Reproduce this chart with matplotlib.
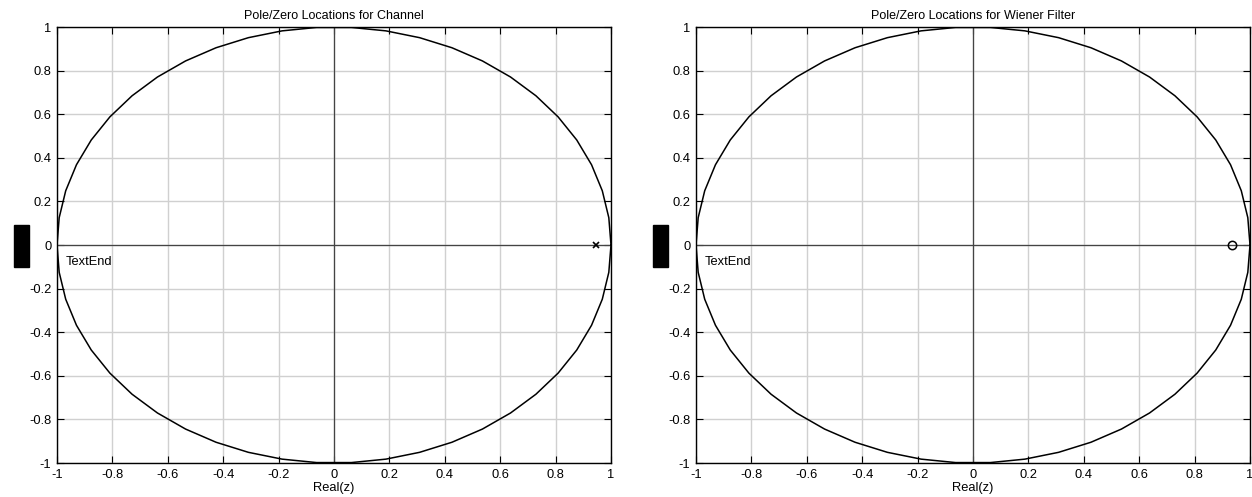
import numpy as np
import matplotlib
matplotlib.use("Agg")
import matplotlib.pyplot as plt
from matplotlib.patches import Rectangle

titles = ["Pole/Zero Locations for Channel", "Pole/Zero Locations for Wiener Filter"]
xlabel = "Real(z)"
ticks = [-1, -0.8, -0.6, -0.4, -0.2, 0, 0.2, 0.4, 0.6, 0.8, 1]
tick_labels = ["-1", "-0.8", "-0.6", "-0.4", "-0.2", "0", "0.2", "0.4", "0.6", "0.8", "1"]
channel_poles_re = [0.945]
channel_poles_im = [0.0]
wiener_zeros_re = [0.935]
wiener_zeros_im = [0.0]
annot_text = "TextEnd"
annot_pos = (-0.97, -0.08)
n_circle = 51

plt.rcParams['font.family'] = ['Liberation Sans', 'DejaVu Sans']

fig = plt.figure(figsize=(12.52, 4.97), dpi=100)
ax_rects = [[57/1252, 34/497, 554/1252, 436/497], [696/1252, 34/497, 554/1252, 436/497]]

theta = np.linspace(0, 2*np.pi, n_circle)
for i, rect in enumerate(ax_rects):
    ax = fig.add_axes(rect)
    ax.set_xlim(-1, 1)
    ax.set_ylim(-1, 1)
    ax.set_xticks(ticks)
    ax.set_xticklabels(tick_labels)
    ax.set_yticks(ticks)
    ax.set_yticklabels(tick_labels)
    ax.grid(True, color='#d0d0d0', linewidth=1.0)
    ax.set_axisbelow(True)
    ax.tick_params(direction='in', top=True, right=True, labelsize=9.3, length=5, width=0.8, pad=4)
    for s in ax.spines.values():
        s.set_linewidth(1.0)
    ax.axhline(0, color='#444444', linewidth=0.9, zorder=1)
    ax.axvline(0, color='#444444', linewidth=0.9, zorder=1)
    ax.plot(np.cos(theta), np.sin(theta), color='black', linewidth=1.1, zorder=3)
    if i == 0:
        ax.plot(channel_poles_re, channel_poles_im, 'x', color='black', markersize=4, mew=1.2, zorder=4)
    else:
        ax.plot(wiener_zeros_re, wiener_zeros_im, 'o', mfc='none', mec='black', markersize=6, mew=1.1, zorder=4)
    ax.set_title(titles[i], fontsize=9, pad=6)
    ax.set_xlabel(xlabel, fontsize=9.3, labelpad=1)
    ax.text(annot_pos[0], annot_pos[1], annot_text, fontsize=9.3, ha='left', va='center')

fig.patches.append(Rectangle((14/1252, (497-267)/497), 15/1252, 42/497, transform=fig.transFigure, color='black'))
fig.patches.append(Rectangle((653/1252, (497-267)/497), 15/1252, 42/497, transform=fig.transFigure, color='black'))

fig.savefig("out.png", dpi=100)
